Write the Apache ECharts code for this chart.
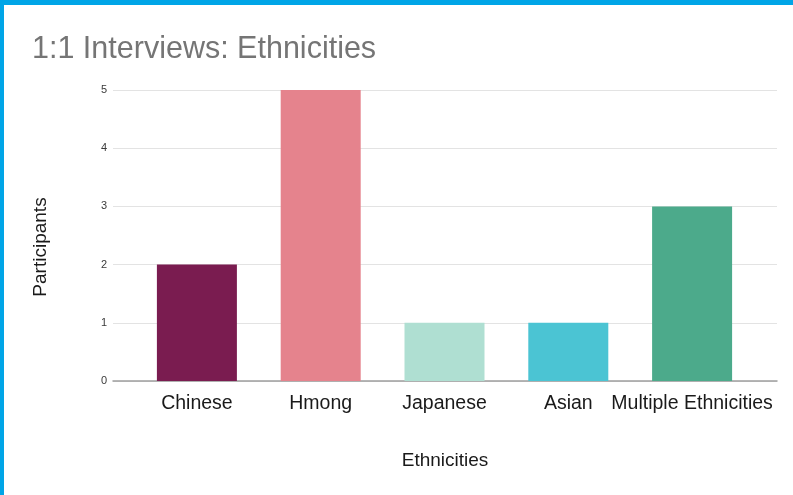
<!DOCTYPE html>
<html>
<head>
<meta charset="utf-8">
<script src="https://cdn.jsdelivr.net/npm/echarts@6/dist/echarts.min.js"></script>
<style>
  html, body { margin: 0; padding: 0; background: #ffffff; }
  #chart { position: absolute; left: 0; top: 0; width: 793px; height: 495px; }
  .edge { position: absolute; background: #00a5e7; }
</style>
</head>
<body>
<div id="chart"></div>
<div class="edge" style="left:0;top:0;width:793px;height:5px;"></div>
<div class="edge" style="left:0;top:0;width:4px;height:495px;"></div>
<script>
// Participants per ethnicity in the 1:1 interviews
const categories = ['Chinese', 'Hmong', 'Japanese', 'Asian', 'Multiple Ethnicities'];
const participants = [2, 5, 1, 1, 3];
const barColors = ['#7a1c50', '#e5838d', '#afdfd2', '#4bc4d3', '#4caa8b'];
const yTicks = { min: 0, max: 5, interval: 1 };

const FONT = '"Liberation Sans", Arial, sans-serif';

const chart = echarts.init(document.getElementById('chart'), null, { renderer: 'canvas' });

chart.setOption({
  backgroundColor: '#ffffff',
  animation: false,
  title: {
    text: '1:1 Interviews: Ethnicities',
    left: 27,
    top: 29,
    textStyle: { fontFamily: FONT, fontSize: 30.5, fontWeight: 'normal', color: '#757575' }
  },
  grid: [
    // bars live on this band
    { left: 135, right: 39, top: 90, bottom: 114 },
    // wider frame carrying the gridlines, tick labels and baseline
    { left: 113, right: 16, top: 90, bottom: 114 }
  ],
  xAxis: [
    {
      type: 'category',
      gridIndex: 0,
      data: categories,
      axisLine: { show: false },
      axisTick: { show: false },
      axisLabel: { fontFamily: FONT, fontSize: 19.5, color: '#1a1a1a', margin: 13, interval: 0 }
    },
    {
      type: 'value',
      gridIndex: 1,
      min: 0,
      max: 1,
      axisLine: { show: true, lineStyle: { color: '#9e9e9e', width: 1.5 } },
      axisTick: { show: false },
      axisLabel: { show: false },
      splitLine: { show: false }
    }
  ],
  yAxis: [
    {
      type: 'value',
      gridIndex: 0,
      min: yTicks.min,
      max: yTicks.max,
      interval: yTicks.interval,
      show: false
    },
    {
      type: 'value',
      gridIndex: 1,
      min: yTicks.min,
      max: yTicks.max,
      interval: yTicks.interval,
      axisLine: { show: false },
      axisTick: { show: false },
      axisLabel: { fontFamily: FONT, fontSize: 11, color: '#3a3a3a', margin: 6 },
      splitLine: { lineStyle: { color: '#e3e3e3', width: 1 } }
    }
  ],
  series: [
    {
      type: 'bar',
      xAxisIndex: 0,
      yAxisIndex: 0,
      barWidth: 80,
      data: participants.map((v, i) => ({ value: v, itemStyle: { color: barColors[i] } })),
      z: 3
    }
  ],
  graphic: [
    {
      type: 'text',
      x: 41,
      y: 247,
      rotation: Math.PI / 2,
      style: {
        text: 'Participants',
        font: '19px ' + FONT,
        fill: '#1a1a1a',
        textAlign: 'center',
        textVerticalAlign: 'middle'
      }
    },
    {
      type: 'text',
      x: 445,
      y: 461,
      style: {
        text: 'Ethnicities',
        font: '19px ' + FONT,
        fill: '#1a1a1a',
        textAlign: 'center',
        textVerticalAlign: 'middle'
      }
    }
  ]
});
</script>
</body>
</html>
